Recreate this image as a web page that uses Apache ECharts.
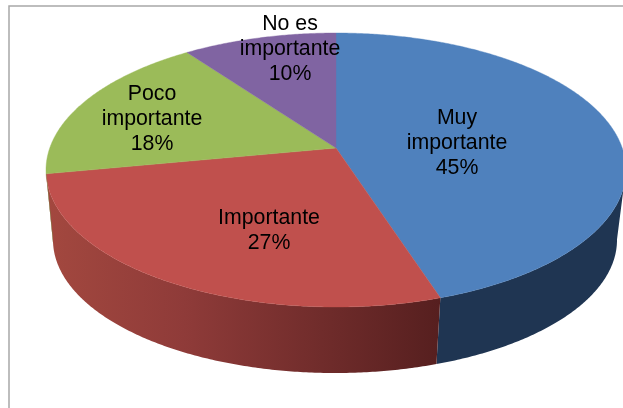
<!DOCTYPE html>
<html>
<head>
<meta charset="utf-8">
<style>html,body{margin:0;padding:0;background:#fff;overflow:hidden}#c{width:623px;height:408px}</style>
<script src="https://cdn.jsdelivr.net/npm/echarts@6/dist/echarts.min.js"></script>
</head>
<body>
<div id="c"></div>
<script>
const categories = ['Muy importante', 'Importante', 'Poco importante', 'No es importante'];
const values = [45, 27, 18, 10];
const labelLines = [['Muy', 'importante', '45%'], ['Importante', '27%'], ['Poco', 'importante', '18%'], ['No es', 'importante', '10%']];

const topColors = ['#4f81bd', '#c0504d', '#9bbb59', '#8064a2'];
const sideStops = [
  [[0, '#1f3552'], [1, '#1f3552']],
  [[0, '#a3483f'], [0.35, '#8f3b39'], [0.7, '#702c2b'], [1, '#561f1f']],
  [[0, '#6f8a3e'], [1, '#6f8a3e']],
  [[0, '#5c4776'], [1, '#5c4776']]
];
const labelCenters = [[457, 143], [269, 231], [152, 119], [290, 49]];
const topEllipse = { cx: 336, cy: 170, rx: 290, ry: 137 };
const baseEllipse = { cx: 335, cy: 240, rx: 282, ry: 133 };
const tilt = 0.16; // perspective shift of the pie centre inside the ellipse

function project(deg) {
  const t = deg * Math.PI / 180, x = Math.sin(t), y = Math.cos(t);
  const d = 1 + tilt * y;
  return [x * Math.sqrt(1 - tilt * tilt) / d, (y + tilt) / d];
}
function onEllipse(p, e) { return [e.cx + p[0] * e.rx, e.cy - p[1] * e.ry]; }

const total = values.reduce((a, b) => a + b, 0);
function renderItem(params, api) {
  const i = params.dataIndex;
  let before = 0;
  for (let k = 0; k < i; k++) before += values[k];
  const start = before / total * 360, end = (before + api.value(0)) / total * 360;
  const unit = [];
  for (let d = start; d < end; d += 0.5) unit.push(project(d));
  unit.push(project(end));

  const apex = onEllipse([0, tilt], topEllipse);
  const topPts = [apex].concat(unit.map(p => onEllipse(p, topEllipse)));
  const children = [];

  const lower = unit.filter(p => p[1] <= 0.01);
  if (lower.length > 1) {
    const upper = lower.map(p => onEllipse(p, topEllipse));
    const base = lower.map(p => onEllipse(p, baseEllipse)).reverse();
    const fill = new echarts.graphic.LinearGradient(46, 0, 440, 0,
      sideStops[i].map(s => ({ offset: s[0], color: s[1] })), true);
    children.push({ type: 'polygon', shape: { points: upper.concat(base) },
      style: { fill: fill, lineWidth: 0 } });
  }
  children.push({ type: 'polygon', shape: { points: topPts },
    style: { fill: topColors[i], stroke: topColors[i], lineWidth: 0.4 } });
  children.push({ type: 'text', z2: 100, x: labelCenters[i][0], y: labelCenters[i][1],
    style: { text: labelLines[i].join('\n'), fill: '#000', align: 'center', verticalAlign: 'middle',
      font: '21.3px "Liberation Sans", Arial, sans-serif', lineHeight: 25 } });
  return { type: 'group', children: children };
}

const chart = echarts.init(document.getElementById('c'), null, { renderer: 'canvas' });
chart.setOption({
  animation: false,
  backgroundColor: '#fff',
  graphic: [{ type: 'rect', z: -1, shape: { x: 9, y: 6, width: 700, height: 500 },
    style: { fill: '#fff', stroke: '#a8a8a8', lineWidth: 1.5 } }],
  series: [{
    type: 'custom',
    coordinateSystem: 'none',
    renderItem: renderItem,
    clip: false,
    data: categories.map((c, i) => ({ name: c, value: [values[i]] }))
  }]
});
</script>
</body>
</html>
